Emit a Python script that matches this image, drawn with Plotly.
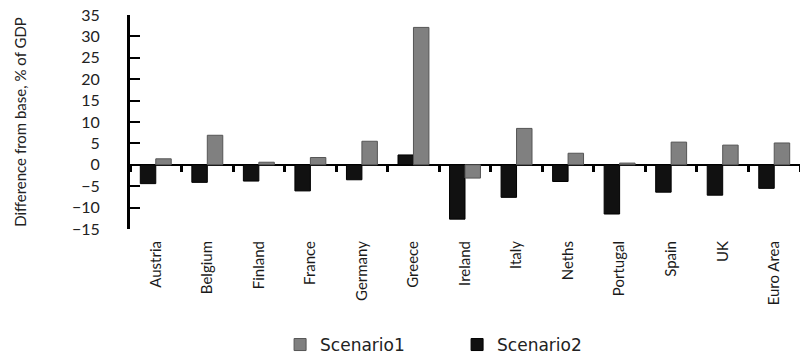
import plotly.graph_objects as go

countries = ["Austria", "Belgium", "Finland", "France", "Germany", "Greece", "Ireland",
             "Italy", "Neths", "Portugal", "Spain", "UK", "Euro Area"]
scenario1 = [1.4, 6.9, 0.6, 1.7, 5.5, 32.1, -3.1, 8.5, 2.7, 0.4, 5.3, 4.6, 5.1]
scenario2 = [-4.4, -4.1, -3.8, -6.1, -3.5, 2.3, -12.7, -7.6, -3.9, -11.5, -6.4, -7.1, -5.5]
y_ticks = [-15, -10, -5, 0, 5, 10, 15, 20, 25, 30, 35]

FONT = "Lato, 'Open Sans', sans-serif"
x_range = [-0.5, len(countries) - 0.5]

fig = go.Figure()
fig.add_trace(go.Bar(x=countries, y=scenario2, name="Scenario2",
                     marker=dict(color="#111111", line=dict(color="#000000", width=1)),
                     legendrank=2))
fig.add_trace(go.Bar(x=countries, y=scenario1, name="Scenario1",
                     marker=dict(color="#808080", line=dict(color="#555555", width=1)),
                     legendrank=1))
# invisible helper trace to draw the category ticks on the zero line
fig.add_trace(go.Scatter(x=countries, y=[0] * len(countries), xaxis="x2", mode="lines",
                         line=dict(width=0), opacity=0, showlegend=False, hoverinfo="skip"))

fig.update_layout(
    width=800, height=354,
    margin=dict(l=130, r=0, t=15, b=125, autoexpand=False),
    paper_bgcolor="white", plot_bgcolor="white",
    barmode="group", bargap=0.4, bargroupgap=0,
    font=dict(family=FONT, color="#222222"),
    xaxis=dict(type="category", range=x_range, showline=False, ticks="", showgrid=False,
               automargin=False, tickangle=-90, ticklabelstandoff=8,
               tickfont=dict(size=15, color="#1a1a1a")),
    xaxis2=dict(type="category", range=x_range, overlaying="x", anchor="free",
                position=0.3, side="bottom", showline=False, showgrid=False,
                ticks="outside", ticklen=6, tickwidth=3, tickcolor="#000000",
                tickson="boundaries", showticklabels=False, automargin=False),
    yaxis=dict(range=[-15, 35], tickvals=y_ticks, showgrid=False, automargin=False,
               showline=True, linecolor="#000000", linewidth=3,
               ticks="inside", ticklen=10, tickwidth=2, tickcolor="#000000",
               zeroline=True, zerolinecolor="#000000", zerolinewidth=2,
               ticklabelstandoff=24,
               tickfont=dict(size=16, color="#222222"),
               title=dict(text="Difference from base, % of GDP",
                          font=dict(size=15, color="#222222"), standoff=42)),
    legend=dict(orientation="h", x=0.224, xanchor="left", y=-0.542, yanchor="middle",
                font=dict(family="'DejaVu Sans', sans-serif", size=17, color="#222222"),
                entrywidth=132, entrywidthmode="pixels",
                bgcolor="rgba(0,0,0,0)"),
    showlegend=True,
)

fig.write_html("out.html", config={"displayModeBar": False},
               post_script="document.body.style.margin='0';document.body.style.padding='0';")
